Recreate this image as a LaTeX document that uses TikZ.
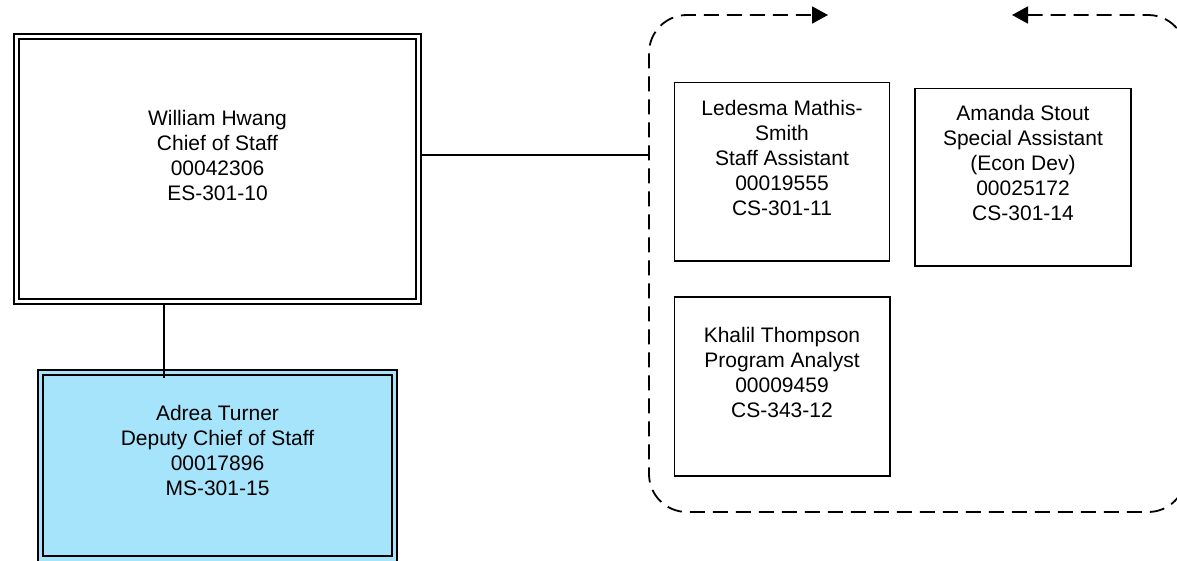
\documentclass[tikz,border=0pt]{standalone}
\usepackage{fontspec}
\setmainfont{Liberation Sans}
\usetikzlibrary{arrows.meta}
\definecolor{deputyblue}{RGB}{166,228,252}
\tikzset{
  box/.style={draw, line width=1.9pt, inner sep=0pt, outer sep=0pt},
  outerbox/.style={draw, line width=2.3pt, inner sep=0pt, outer sep=0pt},
  innerbox/.style={draw, line width=1.3pt, inner sep=0pt, outer sep=0pt},
  lbl/.style={font=\fontsize{21}{25}\selectfont, align=center, inner sep=0pt, text=black},
  conn/.style={line width=1.8pt},
  grp/.style={line width=1.8pt, dash pattern=on 15pt off 8pt, rounded corners=38pt},
  tip/.style={Triangle[length=16pt,width=17pt]},
}
\begin{document}
\begin{tikzpicture}[x=1pt, y=-1pt]
\useasboundingbox (0,0) rectangle (1177,560);
\clip (0,0) rectangle (1177,560);
% William Hwang
\node[outerbox, minimum width=407pt, minimum height=270pt] (w) at (217.5,169) {};
\node[innerbox, minimum width=397pt, minimum height=260pt] (wi) at (217.5,169) {};
\node[lbl] (wt) at (217.5,155) {William Hwang\\Chief of Staff\\00042306\\ES-301-10};
% Adrea Turner
\node[outerbox, fill=deputyblue, minimum width=359pt, minimum height=192pt] (a) at (217.5,466) {};
\node[innerbox, minimum width=349pt, minimum height=181pt] (ai) at (217.5,465.5) {};
\node[lbl] (at) at (217.5,450.5) {Adrea Turner\\Deputy Chief of Staff\\00017896\\MS-301-15};
% Staff boxes
\node[box, minimum width=215pt, minimum height=178.5pt] (l) at (782,171.75) {};
\node[lbl] (lt) at (782,158) {Ledesma Mathis-\\Smith\\Staff Assistant\\00019555\\CS-301-11};
\node[box, minimum width=216pt, minimum height=177.5pt] (s) at (1023,177.25) {};
\node[lbl] (st) at (1023,163) {Amanda Stout\\Special Assistant\\(Econ Dev)\\00025172\\CS-301-14};
\node[box, minimum width=215.5pt, minimum height=179pt] (k) at (782.25,386.5) {};
\node[lbl] (kt) at (782,372.5) {Khalil Thompson\\Program Analyst\\00009459\\CS-343-12};
% Dashed group
\draw[grp, {Triangle[length=16pt,width=17pt]}-{Triangle[length=16pt,width=17pt]}]
  (1012,15) -- (1186,15) -- (1186,512) -- (649,512) -- (649,15) -- (828,15);
\coordinate (grpW) at (649,155);
\coordinate (aTop) at (164,378);
% Connectors
\draw[conn] (w.east |- grpW) -- (grpW);
\draw[conn] (w.south -| aTop) -- (aTop);
\end{tikzpicture}
\end{document}
